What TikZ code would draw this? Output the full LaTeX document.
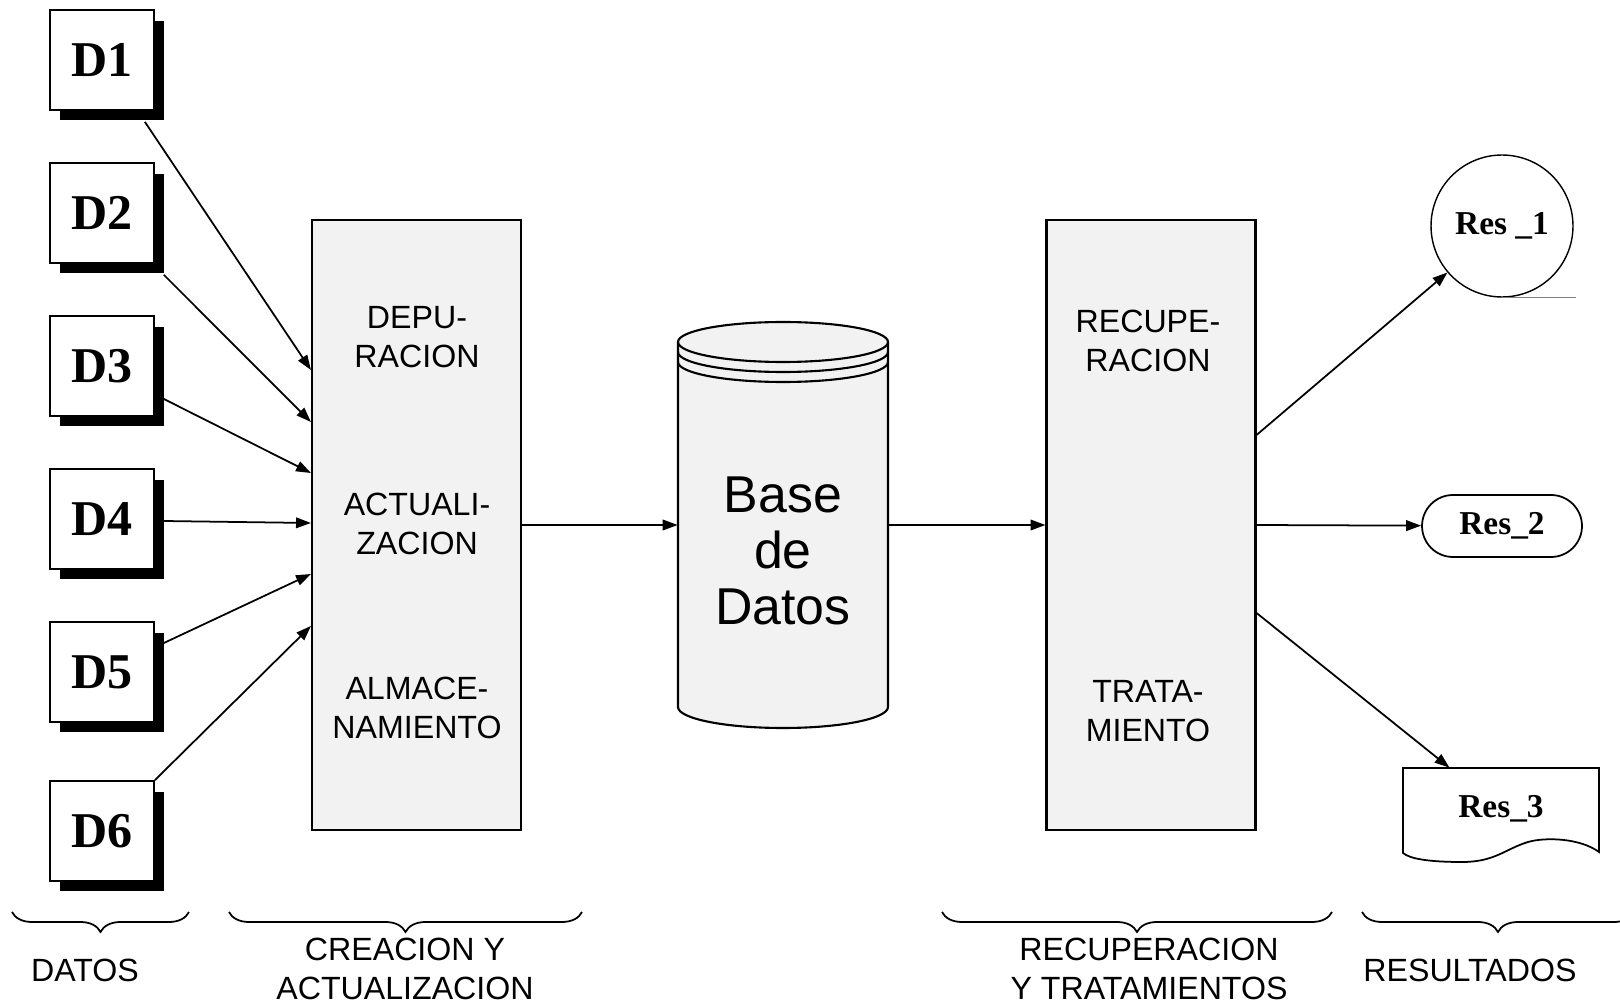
\documentclass[tikz,border=0pt]{standalone}
\usepackage{fontspec}
\setmainfont{Liberation Serif}
\setsansfont{Liberation Sans}
\usetikzlibrary{arrows.meta,shadows,shapes.misc,decorations.pathreplacing}

\tikzset{
  dato/.style={rectangle, draw, line width=1pt, fill=white,
    minimum width=2.08cm, minimum height=2cm, inner sep=0pt,
    drop shadow={shadow xshift=0.2cm, shadow yshift=-0.21cm,
      fill=black, opacity=1},
    font=\fontsize{28.5}{34}\selectfont\bfseries},
  proceso/.style={rectangle, draw, line width=1.2pt, fill=gray!10,
    minimum width=4.18cm, minimum height=12.2cm},
  rotulo/.style={align=center, font=\sffamily\fontsize{18.3}{22}\selectfont},
  resultado/.style={draw, fill=white, line width=0.8pt, inner sep=0pt,
    font=\fontsize{19}{23}\selectfont\bfseries},
  flecha/.style={line width=1pt, -{Triangle[length=8.5pt,width=6pt]}},
  llave/.style={line width=1pt, decorate,
    decoration={brace, mirror, amplitude=0.4cm}},
}

\begin{document}
\begin{tikzpicture}[x=0.02cm, y=-0.02cm]
  \useasboundingbox (0,0) rectangle (1620,1003);

  % datos de entrada
  \node[dato] (d1) at (102,60) {D1};
  \node[dato] (d2) at (102,213) {D2};
  \node[dato] (d3) at (102,366) {D3};
  \node[dato] (d4) at (102,519) {D4};
  \node[dato] (d5) at (102,672) {D5};
  \node[dato] (d6) at (102,831) {D6};

  % creacion y actualizacion
  \node[proceso] (crea) at (416.5,525) {};
  \node[rotulo] (depu) at (417,337) {DEPU-\\RACION};
  \node[rotulo] (actu) at (417,524) {ACTUALI-\\ZACION};
  \node[rotulo] (alma) at (417,708) {ALMACE-\\NAMIENTO};

  \draw[flecha] ([xshift=-0.2cm, yshift=-0.22cm]d1.south east) -- ([yshift=3.1cm]crea.west);
  \draw[flecha] ([xshift=0.18cm, yshift=-0.22cm]d2.south east) -- ([yshift=2.06cm]crea.west);
  \draw[flecha] ([xshift=0.18cm, yshift=-0.66cm]d3.east) -- ([yshift=1.04cm]crea.west);
  \draw[flecha] ([xshift=0.18cm, yshift=-0.04cm]d4.east) -- ([yshift=0.04cm]crea.west);
  \draw[flecha] ([xshift=0.18cm, yshift=0.58cm]d5.east) -- ([yshift=-0.98cm]crea.west);
  \draw[flecha] (d6.north east) -- ([yshift=-2.02cm]crea.west);

  % base de datos
  \fill[gray!10] (678,342) arc[start angle=180, end angle=360, x radius=105, y radius=20]
    -- (888,707) arc[start angle=0, end angle=180, x radius=105, y radius=21] -- cycle;
  \draw[line width=1.2pt] (783,342) ellipse [x radius=105, y radius=20];
  \draw[line width=1.2pt] (678,352) arc[start angle=180, end angle=0, x radius=105, y radius=20];
  \draw[line width=1.2pt] (678,362) arc[start angle=180, end angle=0, x radius=105, y radius=20];
  \draw[line width=1.2pt] (678,342) -- (678,707)
    arc[start angle=180, end angle=0, x radius=105, y radius=21] -- (888,342);
  \node[minimum width=4.2cm, minimum height=8.1cm] (db) at (783,525) {};
  \node[align=center, font=\sffamily\fontsize{29.5}{32}\selectfont] (dbtxt) at (783,551) {Base\\de\\Datos};

  \draw[flecha] (crea.east) -- (db.west);

  % recuperacion y tratamiento
  \node[proceso] (recu) at (1151,525) {};
  \node[rotulo] (recup) at (1148,341) {RECUPE-\\RACION};
  \node[rotulo] (trata) at (1148,711) {TRATA-\\MIENTO};

  \draw[flecha] (db.east) -- (recu.west);

  % resultados
  \node[resultado, circle, minimum size=2.84cm] (res1) at (1502,226) {Res \_1};
  \draw[gray, line width=0.8pt] (res1.south) -- ++(74,0);

  \node[resultado, line width=1pt, rounded rectangle, minimum width=3.2cm,
    minimum height=1.24cm] (res2) at (1502,526) {Res\_2};

  \draw[line width=1pt, fill=white] (1403,768) -- (1599,768) -- (1599,852)
    .. controls (1580,838) and (1545,837) .. (1528,842)
    .. controls (1505,849) and (1495,862) .. (1462,862)
    .. controls (1430,862) and (1410,859) .. (1403,853) -- cycle;
  \node[minimum width=3.92cm, minimum height=1.64cm, inner sep=0pt,
    font=\fontsize{19}{23}\selectfont\bfseries] (res3) at (1501,809) {Res\_3};

  \draw[flecha] ([yshift=1.8cm]recu.east) -- (res1);
  \draw[flecha] (recu.east) -- (res2);
  \draw[flecha] ([yshift=-1.76cm]recu.east) -- (res3);

  % llaves y rotulos inferiores
  \draw[llave] (12,912) -- (189,912);
  \draw[llave] (229,912) -- (582,912);
  \draw[llave] (942,912) -- (1332,912);
  \draw[llave] (1362,912) -- (1634,912);

  \node[rotulo] (datos) at (85,970) {DATOS};
  \node[rotulo] (creacion) at (405,969) {CREACION Y\\ACTUALIZACION};
  \node[rotulo] (recupera) at (1149,969) {RECUPERACION\\Y TRATAMIENTOS};
  \node[rotulo] (resultados) at (1470,970) {RESULTADOS};
\end{tikzpicture}
\end{document}
